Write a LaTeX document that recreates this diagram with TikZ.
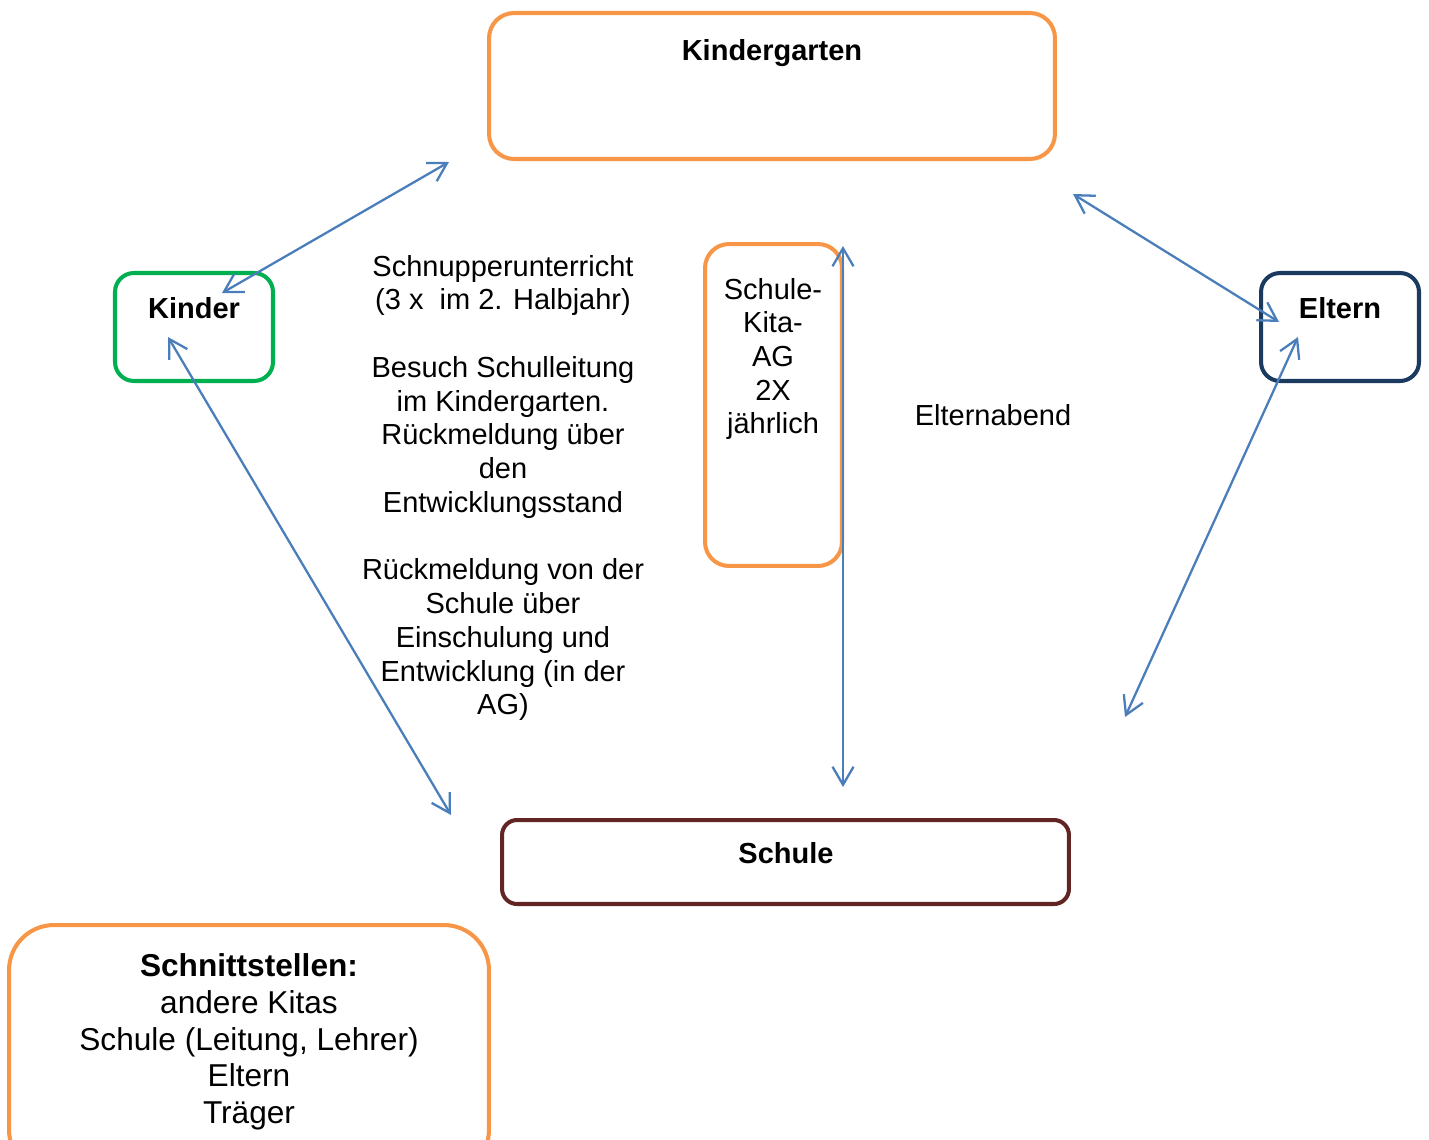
\documentclass[tikz,border=0pt]{standalone}
\usepackage{fontspec}
\setmainfont{Liberation Sans}
\usetikzlibrary{arrows.meta,positioning}
\definecolor{kigaorange}{HTML}{F79646}
\definecolor{kindgreen}{HTML}{00B050}
\definecolor{elternblue}{HTML}{1B3A60}
\definecolor{schulbrown}{HTML}{632523}
\definecolor{linkblue}{HTML}{4A7EBB}
\newcommand{\midtxt}{\fontsize{16.5}{19.2}\selectfont}
\newcommand{\bigtxt}{\fontsize{18}{20.9}\selectfont}

\begin{document}
\begin{tikzpicture}[x=0.02cm,y=-0.02cm]
\tikzstyle{box} = [draw, line width=2.3pt, fill=none, inner sep=0pt]
\tikzstyle{lbl} = [inner sep=0pt, align=center, font=\midtxt]
\tikzstyle{link} = [draw=linkblue, line width=1.3pt, {Straight Barb[length=0.36cm,width=0.42cm]}-{Straight Barb[length=0.36cm,width=0.42cm]}]
\useasboundingbox (0,0) rectangle (1429,1139);
% boxes
\node [box,draw=kigaorange,rounded corners=0.5cm,minimum width=11.32cm,minimum height=2.92cm] (kiga) at (772,86) {};
\node [box,draw=kindgreen,rounded corners=0.38cm,minimum width=3.16cm,minimum height=2.16cm] (kinder) at (194,327) {};
\node [box,draw=elternblue,rounded corners=0.38cm,minimum width=3.16cm,minimum height=2.16cm] (eltern) at (1340,327) {};
\node [box,draw=kigaorange,rounded corners=0.48cm,minimum width=2.74cm,minimum height=6.44cm] (ag) at (773.5,405) {};
\node [box,draw=schulbrown,rounded corners=0.3cm,minimum width=11.34cm,minimum height=1.68cm] (schule) at (785.5,862) {};
\node [box,draw=kigaorange,rounded corners=0.9cm,minimum width=9.6cm,minimum height=5cm] (schnitt) at (249,1050) {};
% texts
\node [lbl,font=\midtxt\bfseries] (kiga-t) at (772,53) {Kindergarten};
\node [lbl,font=\midtxt\bfseries] (kinder-t) at (194,308) {Kinder};
\node [lbl,font=\midtxt\bfseries] (eltern-t) at (1340,308) {Eltern};
\node [lbl,font=\midtxt\bfseries] (schule-t) at (786,853) {Schule};
\node [lbl] (ag-t) at (773,359) {Schule-\\Kita-\\AG\\2X\\jährlich};
\node [lbl] (abend-t) at (993,415) {Elternabend};
\node [lbl] (mid-t) at (503,488) {Schnupperunterricht\\(3 x~ im 2. Halbjahr)\\[19.2pt]
Besuch Schulleitung\\im Kindergarten.\\Rückmeldung über\\den\\Entwicklungsstand\\[19.2pt]
Rückmeldung von der\\Schule über\\Einschulung und\\Entwicklung (in der\\AG)};
\node [lbl,font=\bigtxt] (schnitt-t) at (249,1042) {\textbf{Schnittstellen:}\\andere Kitas\\Schule (Leitung, Lehrer)\\Eltern\\Träger};
% connector ends
\coordinate (k1) at (222,293);
\coordinate (g1) at (449,162);
\coordinate (k2) at (168,337);
\coordinate (s1) at (451,815);
\coordinate (a1) at (843,246);
\coordinate (s2) at (843,787);
\coordinate (g2) at (1073,194);
\coordinate (e1) at (1279,322);
\coordinate (e2) at (1298,337);
\coordinate (s3) at (1125,717);
\draw [link] (k1) -- (g1);
\draw [link] (k2) -- (s1);
\draw [link] (a1) -- (s2);
\draw [link] (g2) -- (e1);
\draw [link] (e2) -- (s3);
\end{tikzpicture}
\end{document}
